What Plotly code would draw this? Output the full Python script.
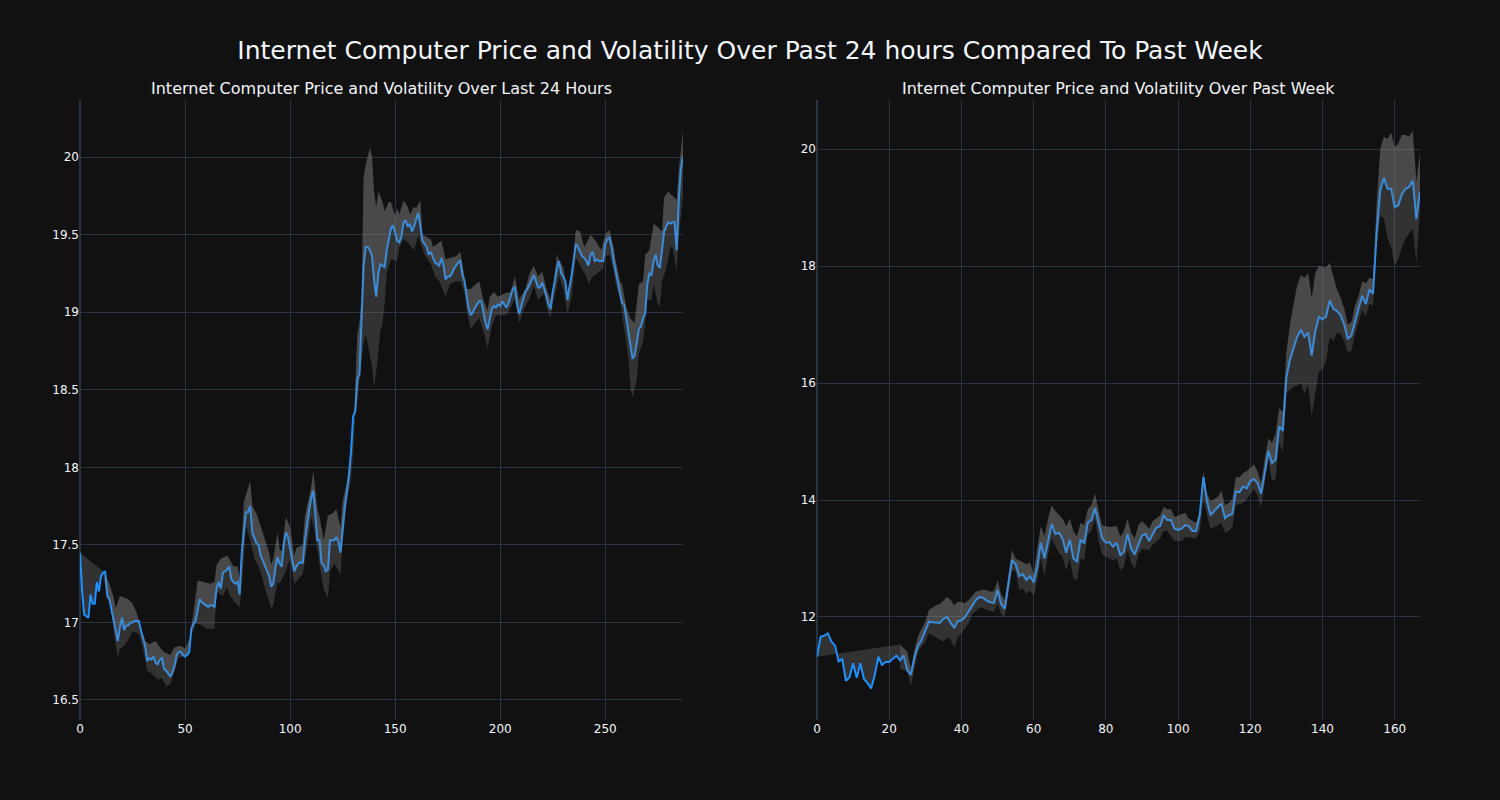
import plotly.graph_objects as go
from plotly.subplots import make_subplots

# ---------------- Last 24 hours (5-minute steps) ----------------
day_price = [
    17.45, 17.20, 17.05, 17.04, 17.03, 17.18, 17.12, 17.12, 17.26, 17.20,
    17.30, 17.32, 17.33, 17.17, 17.15, 17.08, 17.01, 16.95, 16.88, 16.97,
    17.03, 16.95, 16.98, 16.98, 17.00, 17.00, 17.01, 17.01, 17.01, 16.95,
    16.90, 16.85, 16.75, 16.77, 16.76, 16.78, 16.74, 16.73, 16.76, 16.77,
    16.70, 16.69, 16.67, 16.65, 16.68, 16.72, 16.79, 16.81, 16.81, 16.79,
    16.78, 16.79, 16.81, 16.96, 16.99, 17.01, 17.08, 17.15, 17.13, 17.12,
    17.11, 17.10, 17.11, 17.11, 17.10, 17.22, 17.26, 17.22, 17.32, 17.33,
    17.34, 17.36, 17.28, 17.26, 17.25, 17.26, 17.18, 17.45, 17.60, 17.71,
    17.71, 17.75, 17.58, 17.55, 17.51, 17.50, 17.43, 17.40, 17.37, 17.33,
    17.30, 17.23, 17.25, 17.35, 17.42, 17.38, 17.36, 17.50, 17.58, 17.55,
    17.48, 17.40, 17.33, 17.36, 17.38, 17.39, 17.38, 17.52, 17.63, 17.72,
    17.80, 17.85, 17.70, 17.53, 17.53, 17.38, 17.37, 17.33, 17.34, 17.53,
    17.53, 17.53, 17.55, 17.52, 17.45, 17.62, 17.74, 17.84, 17.95, 18.10,
    18.33, 18.36, 18.57, 18.60, 18.98, 19.30, 19.42, 19.42, 19.40, 19.36,
    19.20, 19.10, 19.25, 19.31, 19.30, 19.29, 19.40, 19.48, 19.54, 19.56,
    19.50, 19.46, 19.45, 19.49, 19.58, 19.59, 19.55, 19.57, 19.52, 19.55,
    19.60, 19.64, 19.55, 19.46, 19.44, 19.42, 19.37, 19.39, 19.35, 19.32,
    19.31, 19.30, 19.35, 19.30, 19.21, 19.23, 19.23, 19.25, 19.28, 19.30,
    19.32, 19.33, 19.24, 19.20, 19.10, 19.02, 18.98, 19.00, 19.03, 19.05,
    19.07, 19.07, 19.00, 18.93, 18.89, 18.96, 19.02, 19.04, 19.03, 19.05,
    19.04, 19.07, 19.05, 19.03, 19.06, 19.10, 19.15, 19.16, 19.05, 18.99,
    19.04, 19.08, 19.13, 19.15, 19.18, 19.22, 19.24, 19.20, 19.16, 19.16,
    19.19, 19.15, 19.09, 19.05, 19.02, 19.13, 19.20, 19.28, 19.33, 19.25,
    19.23, 19.20, 19.08, 19.15, 19.24, 19.34, 19.44, 19.42, 19.39, 19.36,
    19.35, 19.33, 19.30, 19.37, 19.39, 19.33, 19.34, 19.33, 19.33, 19.33,
    19.44, 19.47, 19.48, 19.42, 19.33, 19.26, 19.19, 19.13, 19.06, 19.05,
    18.96, 18.85, 18.76, 18.70, 18.72, 18.80, 18.89, 18.91, 18.96, 18.99,
    19.18, 19.25, 19.24, 19.33, 19.37, 19.30, 19.29, 19.40, 19.52, 19.55,
    19.58, 19.57, 19.58, 19.58, 19.40, 19.72, 19.92, 20.00,
]
day_x = list(range(len(day_price)))

day_upper_x = [
    11, 13, 14, 16, 17, 19, 21, 23, 25, 27, 29, 31, 33, 36, 38, 40, 43, 45, 48, 50,
    52, 54, 56, 59, 62, 64, 65, 67, 70, 71, 73, 75, 76, 78, 79, 81, 82, 84, 86, 88,
    90, 91, 92, 94, 95, 96, 98, 100, 102, 103, 106, 107, 110, 111, 113, 114, 116, 118, 120, 122,
    124, 125, 127, 129, 130, 132, 133, 134, 135, 136, 138, 139, 140, 141, 142, 144, 145, 147, 148, 150,
    151, 152, 154, 156, 157, 159, 160, 162, 163, 167, 168, 172, 174, 176, 179, 181, 182, 184, 186, 189,
    190, 192, 194, 195, 197, 199, 202, 205, 207, 208, 209, 212, 214, 216, 218, 220, 222, 224, 225, 227,
    228, 230, 232, 234, 236, 238, 240, 242, 243, 246, 248, 250, 251, 252, 254, 255, 257, 258, 260, 262,
    264, 266, 268, 269, 271, 273, 275, 277, 278, 280, 281, 283, 284, 285, 287,
]
day_upper = [
    17.33, 17.27, 17.25, 17.16, 17.09, 17.17, 17.16, 17.15, 17.12, 17.06, 16.96, 16.88, 16.86, 16.88, 16.84, 16.81, 16.79, 16.84, 16.85, 16.83,
    16.89, 17.06, 17.27, 17.26, 17.25, 17.26, 17.37, 17.41, 17.43, 17.41, 17.36, 17.36, 17.28, 17.78, 17.82, 17.91, 17.75, 17.70, 17.62, 17.53,
    17.45, 17.37, 17.41, 17.58, 17.47, 17.46, 17.68, 17.61, 17.43, 17.48, 17.50, 17.68, 17.87, 17.98, 17.73, 17.68, 17.53, 17.69, 17.70, 17.73,
    17.61, 17.78, 17.90, 18.07, 18.17, 18.86, 18.93, 19.10, 19.87, 19.95, 20.06, 20.00, 19.77, 19.68, 19.78, 19.71, 19.65, 19.71, 19.71, 19.62,
    19.67, 19.63, 19.72, 19.68, 19.63, 19.68, 19.67, 19.72, 19.50, 19.47, 19.42, 19.46, 19.34, 19.35, 19.36, 19.39, 19.30, 19.15, 19.15, 19.19,
    19.20, 19.08, 19.01, 19.10, 19.13, 19.10, 19.12, 19.13, 19.23, 19.15, 19.08, 19.15, 19.25, 19.30, 19.23, 19.26, 19.15, 19.08, 19.15, 19.37,
    19.33, 19.29, 19.13, 19.25, 19.53, 19.52, 19.42, 19.47, 19.50, 19.45, 19.40, 19.50, 19.52, 19.53, 19.42, 19.33, 19.20, 19.18, 19.03, 18.96,
    18.93, 19.18, 19.20, 19.37, 19.40, 19.57, 19.55, 19.52, 19.74, 19.78, 19.76, 19.74, 19.72, 19.92, 20.17,
]

day_lower_x = [
    11, 13, 15, 16, 18, 19, 21, 23, 25, 28, 30, 32, 34, 37, 39, 41, 43, 45, 47, 49,
    51, 53, 55, 57, 60, 64, 65, 68, 70, 71, 73, 75, 76, 78, 79, 81, 83, 85, 87, 88,
    90, 91, 92, 94, 95, 98, 100, 102, 104, 106, 108, 110, 111, 114, 116, 118, 119, 121, 124, 125,
    127, 129, 130, 131, 132, 133, 134, 135, 136, 137, 138, 139, 140, 141, 142, 143, 144, 145, 146, 148,
    151, 152, 154, 156, 159, 161, 162, 164, 167, 169, 171, 174, 176, 179, 181, 183, 184, 186, 188, 190,
    192, 194, 196, 198, 200, 203, 205, 207, 208, 209, 211, 214, 216, 218, 221, 222, 224, 225, 228, 230,
    232, 234, 236, 239, 241, 242, 244, 246, 249, 250, 252, 254, 255, 257, 259, 261, 262, 263, 265, 266,
    268, 269, 270, 272, 273, 275, 276, 277, 279, 281, 282, 284, 285, 287,
]
day_lower = [
    17.30, 17.16, 17.10, 16.94, 16.77, 16.83, 16.85, 16.89, 16.94, 16.93, 16.83, 16.69, 16.67, 16.63, 16.64, 16.59, 16.60, 16.69, 16.77, 16.78,
    16.79, 16.91, 16.99, 16.99, 16.96, 16.96, 17.20, 17.17, 17.23, 17.18, 17.14, 17.11, 17.10, 17.41, 17.63, 17.53, 17.41, 17.36, 17.28, 17.22,
    17.14, 17.09, 17.11, 17.26, 17.25, 17.33, 17.41, 17.25, 17.28, 17.31, 17.48, 17.68, 17.63, 17.36, 17.21, 17.16, 17.33, 17.38, 17.31, 17.53,
    17.78, 17.92, 18.10, 18.35, 18.43, 18.55, 18.70, 18.80, 18.86, 18.80, 18.72, 18.65, 18.52, 18.62, 18.77, 18.88, 18.93, 19.05, 19.25, 19.34,
    19.33, 19.42, 19.47, 19.45, 19.40, 19.50, 19.45, 19.37, 19.31, 19.23, 19.20, 19.10, 19.18, 19.20, 19.20, 19.13, 19.01, 18.89, 18.93, 18.96,
    18.88, 18.77, 18.91, 18.98, 18.98, 18.98, 19.03, 19.09, 19.01, 18.93, 19.01, 19.09, 19.17, 19.08, 19.12, 19.03, 18.96, 19.05, 19.23, 19.15,
    18.99, 19.10, 19.35, 19.28, 19.23, 19.18, 19.23, 19.25, 19.28, 19.36, 19.37, 19.26, 19.18, 19.08, 18.88, 18.71, 18.51, 18.45, 18.56, 18.73,
    18.81, 18.96, 19.08, 19.08, 19.18, 19.05, 19.04, 19.20, 19.28, 19.42, 19.42, 19.26, 19.50, 19.74,
]

# ---------------- Past week (hourly steps) ----------------
week_price = [
    11.32, 11.66, 11.68, 11.72, 11.58, 11.51, 11.24, 11.28, 10.91, 10.97,
    11.21, 10.96, 11.21, 10.94, 10.87, 10.78, 11.01, 11.32, 11.18, 11.23,
    11.23, 11.28, 11.34, 11.26, 11.34, 11.09, 11.01, 11.31, 11.51, 11.61,
    11.75, 11.92, 11.91, 11.91, 11.90, 11.97, 12.00, 11.90, 11.82, 11.93,
    11.94, 12.00, 12.09, 12.18, 12.29, 12.34, 12.33, 12.28, 12.25, 12.24,
    12.46, 12.22, 12.14, 12.56, 12.97, 12.90, 12.70, 12.73, 12.63, 12.70,
    12.59, 12.86, 13.27, 13.00, 13.27, 13.59, 13.42, 13.44, 13.34, 13.10,
    13.32, 13.00, 12.95, 13.32, 13.26, 13.61, 13.66, 13.86, 13.60, 13.34,
    13.27, 13.28, 13.20, 13.27, 13.05, 13.12, 13.42, 13.17, 13.07, 13.24,
    13.39, 13.42, 13.30, 13.42, 13.53, 13.55, 13.73, 13.66, 13.66, 13.51,
    13.49, 13.51, 13.57, 13.55, 13.47, 13.47, 13.74, 14.39, 13.98, 13.74,
    13.81, 13.88, 13.93, 13.69, 13.74, 13.76, 14.15, 14.13, 14.23, 14.20,
    14.32, 14.36, 14.29, 14.11, 14.46, 14.84, 14.63, 14.69, 15.26, 15.18,
    16.10, 16.40, 16.60, 16.79, 16.91, 16.79, 16.86, 16.47, 16.88, 17.13,
    17.09, 17.14, 17.41, 17.27, 17.23, 17.16, 17.00, 16.76, 16.81, 17.07,
    17.28, 17.49, 17.35, 17.60, 17.53, 18.57, 19.30, 19.51, 19.32, 19.32,
    19.01, 19.04, 19.23, 19.32, 19.35, 19.46, 18.80, 19.27,
]
week_x = list(range(len(week_price)))

week_upper_x = [
    23, 25, 26, 27, 28, 30, 31, 33, 34, 36, 37, 38, 39, 41, 42, 44, 46, 47, 48, 49,
    50, 51, 52, 53, 54, 55, 56, 58, 59, 60, 61, 62, 63, 64, 65, 66, 68, 69, 70, 71,
    72, 73, 74, 75, 76, 77, 78, 79, 80, 81, 83, 84, 85, 86, 87, 88, 89, 90, 92, 93,
    95, 96, 97, 98, 99, 101, 102, 103, 105, 106, 107, 108, 109, 111, 112, 113, 114, 115, 116, 117,
    118, 119, 121, 122, 123, 124, 125, 126, 127, 128, 129, 130, 131, 132, 133, 134, 135, 136, 137, 138,
    139, 140, 141, 142, 143, 144, 145, 146, 147, 148, 149, 150, 151, 152, 153, 154, 155, 156, 157, 158,
    159, 160, 161, 162, 163, 164, 165, 166, 167,
]
week_upper = [
    11.53, 11.41, 11.11, 11.45, 11.68, 11.92, 12.12, 12.20, 12.22, 12.34, 12.29, 12.20, 12.26, 12.24, 12.29, 12.43, 12.47, 12.46, 12.43, 12.44,
    12.63, 12.39, 12.29, 12.73, 13.14, 13.00, 12.97, 12.90, 12.93, 12.73, 13.17, 13.55, 13.38, 13.68, 13.91, 13.81, 13.68, 13.55, 13.68, 13.47,
    13.38, 13.61, 13.57, 13.84, 13.91, 14.11, 13.80, 13.57, 13.55, 13.54, 13.55, 13.37, 13.47, 13.68, 13.44, 13.34, 13.57, 13.64, 13.51, 13.64,
    13.73, 13.88, 13.84, 13.84, 13.71, 13.75, 13.78, 13.68, 13.61, 13.80, 14.49, 14.11, 13.98, 14.05, 14.16, 13.91, 13.95, 14.01, 14.39, 14.39,
    14.46, 14.49, 14.61, 14.49, 14.29, 14.70, 15.05, 14.98, 15.12, 15.57, 15.51, 16.52, 17.00, 17.35, 17.67, 17.84, 17.80, 17.88, 17.45, 17.87,
    18.01, 17.98, 17.98, 18.05, 17.80, 17.60, 17.46, 17.28, 17.00, 17.04, 17.32, 17.49, 17.74, 17.70, 17.80, 17.78, 19.09, 20.00, 20.21, 20.17,
    20.28, 20.03, 20.10, 20.24, 20.24, 20.22, 20.31, 19.44, 19.93,
]

week_lower_x = [
    23, 25, 26, 27, 28, 30, 31, 33, 35, 36, 37, 38, 39, 40, 42, 43, 45, 46, 47, 49,
    50, 51, 52, 53, 54, 55, 56, 57, 58, 59, 60, 61, 62, 63, 64, 65, 67, 68, 69, 70,
    71, 72, 73, 74, 75, 76, 77, 78, 79, 80, 81, 82, 83, 84, 85, 86, 87, 88, 89, 90,
    92, 93, 95, 96, 97, 99, 101, 102, 104, 105, 106, 107, 108, 109, 111, 112, 113, 114, 115, 116,
    118, 119, 120, 121, 122, 123, 124, 125, 126, 127, 128, 129, 130, 131, 132, 134, 135, 136, 137, 138,
    139, 140, 141, 142, 143, 144, 145, 146, 147, 148, 149, 150, 151, 152, 153, 154, 155, 156, 157, 158,
    159, 160, 161, 162, 163, 165, 166, 167,
]
week_lower = [
    11.12, 11.07, 10.82, 11.11, 11.41, 11.58, 11.72, 11.65, 11.58, 11.65, 11.61, 11.48, 11.65, 11.72, 11.89, 12.05, 12.16, 12.16, 12.12, 12.09,
    12.22, 12.05, 11.99, 12.39, 12.80, 12.78, 12.46, 12.49, 12.39, 12.46, 12.36, 12.63, 13.00, 12.70, 13.07, 13.34, 13.10, 13.03, 12.80, 13.00,
    12.66, 12.63, 13.00, 12.97, 13.41, 13.47, 13.68, 13.30, 13.07, 13.03, 13.00, 12.97, 13.00, 12.80, 12.86, 13.14, 12.93, 12.83, 13.07, 13.17,
    13.14, 13.24, 13.34, 13.47, 13.47, 13.30, 13.30, 13.37, 13.35, 13.34, 13.47, 14.01, 13.74, 13.51, 13.57, 13.61, 13.44, 13.47, 13.54, 13.91,
    13.95, 14.01, 14.11, 14.18, 14.08, 13.87, 14.32, 14.70, 14.32, 14.36, 14.98, 14.81, 15.82, 15.89, 15.93, 15.99, 15.82, 15.96, 15.44, 15.82,
    16.20, 16.24, 16.38, 16.79, 16.72, 16.86, 16.84, 16.72, 16.52, 16.55, 16.83, 17.04, 17.25, 17.14, 17.35, 17.32, 18.33, 18.85, 18.82, 18.47,
    18.33, 18.01, 18.12, 18.33, 18.47, 18.64, 18.05, 18.95,
]

main_title = "Internet Computer Price and Volatility Over Past 24 hours Compared To Past Week"
sub_titles = ("Internet Computer Price and Volatility Over Last 24 Hours",
              "Internet Computer Price and Volatility Over Past Week")

LINE_COLOR = "#1E90FF"
BAND_COLOR = "rgba(128,128,128,0.3)"
FONT = "DejaVu Sans"

fig = make_subplots(rows=1, cols=2, subplot_titles=sub_titles, horizontal_spacing=0.1)

panels = [
    (1, day_x, day_price, day_upper_x, day_upper, day_lower_x, day_lower),
    (2, week_x, week_price, week_upper_x, week_upper, week_lower_x, week_lower),
]
for col, px_, py_, ux, uy, lx, ly in panels:
    fig.add_trace(go.Scatter(x=px_, y=py_, mode="lines",
                             line=dict(color=LINE_COLOR, width=2),
                             showlegend=False, hoverinfo="skip"), row=1, col=col)
    fig.add_trace(go.Scatter(x=ux, y=uy, mode="lines", line=dict(width=0),
                             fill="tonexty", fillcolor=BAND_COLOR,
                             showlegend=False, hoverinfo="skip"), row=1, col=col)
    fig.add_trace(go.Scatter(x=lx, y=ly, mode="lines", line=dict(width=0),
                             fill="tonexty", fillcolor=BAND_COLOR,
                             showlegend=False, hoverinfo="skip"), row=1, col=col)

fig.update_layout(
    template="plotly_dark",
    width=1500, height=800,
    margin=dict(l=80, r=80, t=100, b=80),
    font=dict(family=FONT),
    title=dict(text=main_title, x=0.5, xanchor="center", y=0.9375, yanchor="middle",
               font=dict(size=25, family=FONT)),
    showlegend=False,
)
fig.update_annotations(font=dict(size=16, family=FONT))
fig.update_xaxes(range=[0, 287], row=1, col=1)
fig.update_xaxes(range=[0, 167], row=1, col=2)
fig.update_yaxes(range=[16.371, 20.368], dtick=0.5, row=1, col=1)
fig.update_yaxes(range=[10.239, 20.838], dtick=2, row=1, col=2)

fig.write_html("out.html", config={"displayModeBar": False},
               post_script="document.body.style.margin='0';")
